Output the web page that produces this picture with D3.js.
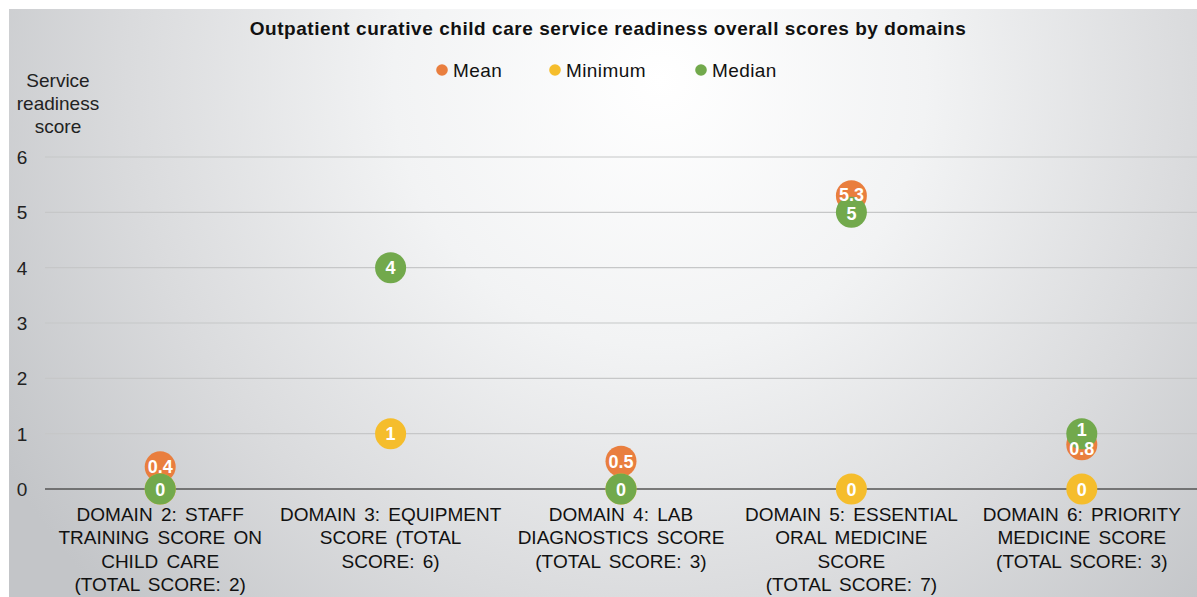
<!DOCTYPE html>
<html>
<head>
<meta charset="utf-8">
<script src="https://cdn.jsdelivr.net/npm/d3@7"></script>
<style>
  html, body { margin: 0; padding: 0; background: #fff; }
  svg { display: block; font-family: "Liberation Sans", Arial, sans-serif; }
</style>
</head>
<body>
<svg id="chart" width="1197" height="597"></svg>
<script>
// Domain categories (each label split into lines)
const categories = [
  ["DOMAIN 2: STAFF", "TRAINING SCORE ON", "CHILD CARE", "(TOTAL SCORE: 2)"],
  ["DOMAIN 3: EQUIPMENT", "SCORE (TOTAL", "SCORE: 6)"],
  ["DOMAIN 4: LAB", "DIAGNOSTICS SCORE", "(TOTAL SCORE: 3)"],
  ["DOMAIN 5: ESSENTIAL", "ORAL MEDICINE", "SCORE", "(TOTAL SCORE: 7)"],
  ["DOMAIN 6: PRIORITY", "MEDICINE SCORE", "(TOTAL SCORE: 3)"]
];
const meanValues    = [0.4, null, 0.5, 5.3, 0.8];
const minimumValues = [0, 1, 0, 0, 0];
const medianValues  = [0, 4, 0, 5, 1];
const yTicks = [0, 1, 2, 3, 4, 5, 6];

const series = [
  { name: "Mean",    values: meanValues,    color: "#E97E3E" },
  { name: "Minimum", values: minimumValues, color: "#F5BD2C" },
  { name: "Median",  values: medianValues,  color: "#72A94C" }
];

const W = 1197, H = 597;
const svg = d3.select("#chart");

// Background panel with soft radial shading
const defs = svg.append("defs");
const grad = defs.append("radialGradient")
  .attr("id", "bg").attr("gradientUnits", "userSpaceOnUse")
  .attr("cx", 660).attr("cy", 80).attr("r", 760)
  .attr("fx", 660).attr("fy", 80);
grad.append("stop").attr("offset", "0%").attr("stop-color", "#ffffff");
grad.append("stop").attr("offset", "35%").attr("stop-color", "#f2f3f4");
grad.append("stop").attr("offset", "70%").attr("stop-color", "#dadbdd");
grad.append("stop").attr("offset", "100%").attr("stop-color", "#c3c5c8");
svg.append("rect").attr("x", 9).attr("y", 9).attr("width", W - 9).attr("height", H - 9)
  .attr("fill", "url(#bg)");

const x = d3.scaleBand().domain(d3.range(categories.length)).range([45, 1197]);
const y = d3.scaleLinear().domain([0, 6]).range([489, 157]);
const cx = i => x(i) + x.bandwidth() / 2;

// Gridlines
svg.append("g").selectAll("line").data(yTicks.filter(d => d > 0)).join("line")
  .attr("x1", 45).attr("x2", 1197)
  .attr("y1", d => y(d)).attr("y2", d => y(d))
  .attr("stroke", "#c6c7c8").attr("stroke-width", 1.2);

// Y tick labels
svg.append("g").selectAll("text").data(yTicks).join("text")
  .attr("x", 22).attr("y", d => y(d) + 7)
  .attr("text-anchor", "middle")
  .attr("font-size", 19).attr("fill", "#222")
  .text(d => d);

// Zero axis line
svg.append("line").attr("x1", 45).attr("x2", 1197)
  .attr("y1", y(0)).attr("y2", y(0))
  .attr("stroke", "#555").attr("stroke-width", 1.6);

// Y axis title
svg.append("text").attr("x", 58).attr("y", 87)
  .attr("text-anchor", "middle").attr("font-size", 19).attr("fill", "#222")
  .selectAll("tspan").data(["Service", "readiness", "score"]).join("tspan")
  .attr("x", 58).attr("dy", (d, i) => i === 0 ? 0 : 23).text(d => d);

// Category labels
const xl = svg.append("g").selectAll("text").data(categories).join("text")
  .attr("text-anchor", "middle").attr("font-size", 19).attr("fill", "#111")
  .attr("word-spacing", 3)
  .attr("y", 521);
xl.selectAll("tspan").data((d, i) => d.map(t => ({ t, i }))).join("tspan")
  .attr("x", d => cx(d.i))
  .attr("dy", (d, j) => j === 0 ? 0 : 23.3)
  .text(d => d.t);

// Title
svg.append("text").attr("x", 608).attr("y", 35)
  .attr("text-anchor", "middle").attr("font-size", 19).attr("font-weight", "bold")
  .attr("letter-spacing", 0.55)
  .attr("fill", "#111").text("Outpatient curative child care service readiness overall scores by domains");

// Legend
const legendX = [442, 555, 701];
const lg = svg.append("g").selectAll("g").data(series).join("g")
  .attr("transform", (d, i) => `translate(${legendX[i]},70)`);
lg.append("circle").attr("r", 5.8).attr("fill", d => d.color);
lg.append("text").attr("x", 11).attr("y", 7).attr("font-size", 19)
  .attr("letter-spacing", 0.4).attr("fill", "#111")
  .text(d => d.name);

// Points (series drawn in order, median on top)
const points = [];
series.forEach((s, si) => {
  s.values.forEach((v, i) => {
    if (v !== null) points.push({ v, i, si, color: s.color, ly: y(v) });
  });
});
svg.append("g").selectAll("circle").data(points).join("circle")
  .attr("cx", d => cx(d.i)).attr("cy", d => y(d.v))
  .attr("r", 15.5).attr("fill", d => d.color);

// Value labels: spread apart labels of distinct values that sit too close
const minGap = 19.5;
d3.groups(points, d => d.i).forEach(([, pts]) => {
  const byVal = d3.groups(pts, d => d.v).map(([v, arr]) => ({ v, arr, ly: y(v) }))
    .sort((a, b) => a.ly - b.ly);
  for (let k = 1; k < byVal.length; k++) {
    const gap = byVal[k].ly - byVal[k - 1].ly;
    if (gap < minGap) {
      const push = (minGap - gap) / 2;
      byVal[k - 1].ly -= push;
      byVal[k].ly += push;
    }
  }
  byVal.forEach(g => g.arr.forEach(p => { p.ly = g.ly; }));
});
// Only the topmost point of each value/category gets a visible label
const labelled = d3.groups(points, d => d.i + "|" + d.v).map(([, arr]) => arr[arr.length - 1]);
svg.append("g").selectAll("text").data(labelled).join("text")
  .attr("x", d => cx(d.i)).attr("y", d => d.ly + 6.5)
  .attr("text-anchor", "middle")
  .attr("font-size", 18).attr("font-weight", "bold").attr("fill", "#fff")
  .text(d => d.v);
</script>
</body>
</html>
